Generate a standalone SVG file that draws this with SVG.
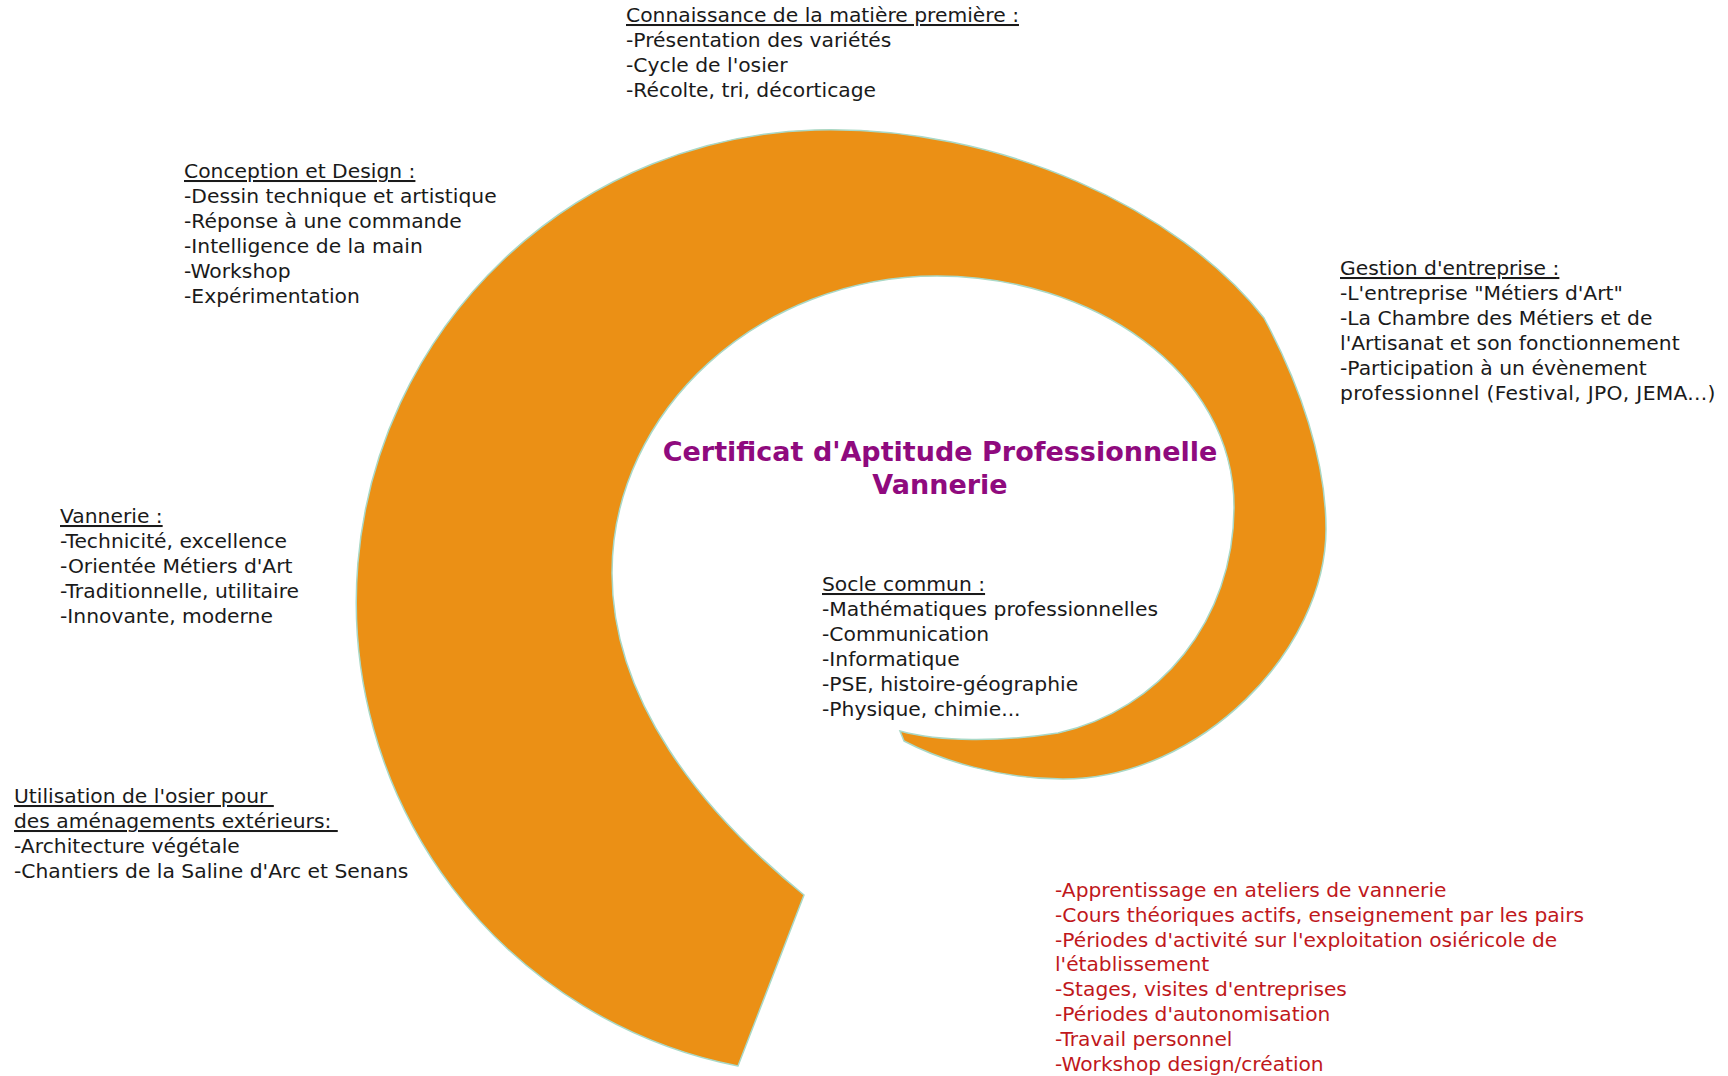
<svg xmlns="http://www.w3.org/2000/svg" width="1728" height="1076" viewBox="0 0 1728 1076">
<style>
.t{font-family:"DejaVu Sans",Verdana,sans-serif;font-size:20.3px;fill:#1a1a1a}
.h{text-decoration:underline}
.r{font-family:"DejaVu Sans",Tahoma,sans-serif;font-size:20.2px;fill:#c0181c}
.title{font-family:"DejaVu Sans",Verdana,sans-serif;font-size:27px;font-weight:bold;fill:#8f0a7e}
.spiral{fill:#eb9015;stroke:#a9d8c6;stroke-width:1.5}
</style>
<rect width="1728" height="1076" fill="#ffffff"/>
<g id="spiral">
<path class="spiral" d="M 738 1066 A 472.5 472.5 0 0 1 815 130 C 1000 125 1180 210 1264 318 C 1300 385 1326 460 1326 529 C 1326 650 1200 779 1063 779 C 1000 779 940 760 904 741 L 900 731 C 940 742 1000 742 1058 733 C 1160 710 1234 620 1234 507 C 1234 370 1090 276 937 276 C 760 276 612 410 612 573 C 612 700 700 810 804 895 Z"/>
</g>
<g id="matiere">
<text class="t"><tspan class="h" x="626" y="22">Connaissance de la matière première :</tspan><tspan x="626" y="47">-Présentation des variétés</tspan><tspan x="626" y="72">-Cycle de l'osier</tspan><tspan x="626" y="97">-Récolte, tri, décorticage</tspan></text>
</g>
<g id="conception">
<text class="t"><tspan class="h" x="184" y="178">Conception et Design :</tspan><tspan x="184" y="203">-Dessin technique et artistique</tspan><tspan x="184" y="228">-Réponse à une commande</tspan><tspan x="184" y="253">-Intelligence de la main</tspan><tspan x="184" y="278">-Workshop</tspan><tspan x="184" y="303">-Expérimentation</tspan></text>
</g>
<g id="gestion">
<text class="t"><tspan class="h" x="1340" y="275">Gestion d'entreprise :</tspan><tspan x="1340" y="300">-L'entreprise "Métiers d'Art"</tspan><tspan x="1340" y="325">-La Chambre des Métiers et de</tspan><tspan x="1340" y="350">l'Artisanat et son fonctionnement</tspan><tspan x="1340" y="375">-Participation à un évènement</tspan><tspan x="1340" y="400" letter-spacing="0.3">professionnel (Festival, JPO, JEMA...)</tspan></text>
</g>
<g id="vannerie">
<text class="t"><tspan class="h" x="60" y="523">Vannerie :</tspan><tspan x="60" y="548">-Technicité, excellence</tspan><tspan x="60" y="573">-Orientée Métiers d'Art</tspan><tspan x="60" y="598">-Traditionnelle, utilitaire</tspan><tspan x="60" y="623">-Innovante, moderne</tspan></text>
</g>
<g id="utilisation">
<text class="t" style="white-space:pre" xml:space="preserve"><tspan class="h" x="14" y="803">Utilisation de l'osier pour </tspan><tspan class="h" x="14" y="828">des aménagements extérieurs: </tspan><tspan x="14" y="853">-Architecture végétale</tspan><tspan x="14" y="878">-Chantiers de la Saline d'Arc et Senans</tspan></text>
</g>
<g id="titre">
<text class="title" text-anchor="middle"><tspan x="940" y="461">Certificat d'Aptitude Professionnelle</tspan><tspan x="940" y="494">Vannerie</tspan></text>
</g>
<g id="socle">
<text class="t"><tspan class="h" x="822" y="591">Socle commun :</tspan><tspan x="822" y="616">-Mathématiques professionnelles</tspan><tspan x="822" y="641">-Communication</tspan><tspan x="822" y="666">-Informatique</tspan><tspan x="822" y="691">-PSE, histoire-géographie</tspan><tspan x="822" y="716">-Physique, chimie...</tspan></text>
</g>
<g id="pedagogie">
<text class="r"><tspan x="1055" y="897">-Apprentissage en ateliers de vannerie</tspan><tspan x="1055" y="922">-Cours théoriques actifs, enseignement par les pairs</tspan><tspan x="1055" y="947">-Périodes d'activité sur l'exploitation osiéricole de</tspan><tspan x="1055" y="971">l'établissement</tspan><tspan x="1055" y="996">-Stages, visites d'entreprises</tspan><tspan x="1055" y="1021">-Périodes d'autonomisation</tspan><tspan x="1055" y="1046">-Travail personnel</tspan><tspan x="1055" y="1071">-Workshop design/création</tspan></text>
</g>
<g id="connectors"></g>
</svg>
